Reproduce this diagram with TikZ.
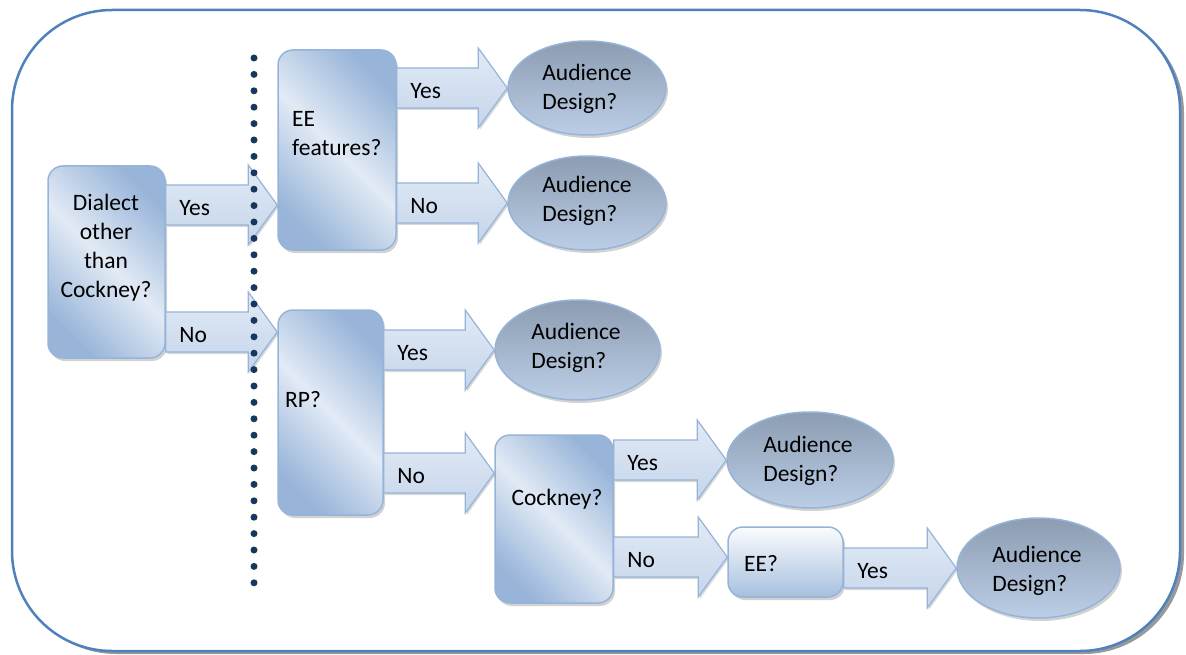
\documentclass[tikz,border=0pt]{standalone}
\usepackage{fontspec}
\setmainfont{Carlito}
\usetikzlibrary{shapes.geometric,shadows,calc}
\definecolor{frameblue}{RGB}{79,129,189}
\definecolor{boxdark}{RGB}{152,181,217}
\definecolor{boxlight}{RGB}{226,234,245}
\definecolor{boxline}{RGB}{150,180,216}
\definecolor{elltop}{RGB}{140,157,178}
\definecolor{ellbot}{RGB}{188,206,230}
\definecolor{arrtop}{RGB}{226,234,245}
\definecolor{arrbot}{RGB}{196,213,235}
\definecolor{dotblue}{RGB}{23,55,94}
\newcommand{\barrow}[3]{%
  \draw[blockarrow] let \p1=#1, \p2=#2 in
    (\x1,\y2+20pt) -- (\x2-29pt,\y2+20pt) -- (\x2-29pt,\y2+40pt) -- (\x2,\y2)
    -- (\x2-29pt,\y2-40pt) -- (\x2-29pt,\y2-20pt) -- (\x1,\y2-20pt) -- cycle;
  \path let \p1=#1, \p2=#2 in node[lbl, anchor=west] at (\x1+13.5pt,\y2-3.5pt) {#3};
}
\begin{document}
\begin{tikzpicture}[x=1pt,y=-1pt,
  lbl/.style={font=\fontsize{23.5}{29}\selectfont, inner sep=0pt, text=black},
  framebox/.style={draw=frameblue, line width=2.5pt, rounded corners=100pt, fill=white,
    drop shadow={shadow xshift=4pt,shadow yshift=-3pt,fill=gray,opacity=0.8}, inner sep=0pt},
  box/.style={draw=boxline, line width=1.5pt, rounded corners=15pt, inner sep=0pt,
    drop shadow={shadow xshift=2pt,shadow yshift=-3pt,opacity=0.35},
    left color=boxdark, right color=boxdark, middle color=boxlight, shading angle=-45},
  flatbox/.style={draw=boxline, line width=1.5pt, rounded corners=15pt, inner sep=0pt,
    drop shadow={shadow xshift=2pt,shadow yshift=-3pt,opacity=0.35},
    top color=white!85!boxlight, bottom color=boxdark!80!boxlight},
  ellnode/.style={ellipse, draw=boxline, line width=1.5pt, inner sep=0pt,
    drop shadow={shadow xshift=2pt,shadow yshift=-3pt,opacity=0.35},
    top color=elltop, bottom color=ellbot},
  blockarrow/.style={draw=boxline, line width=1.2pt, line join=miter,
    drop shadow={shadow xshift=1.5pt,shadow yshift=-2pt,opacity=0.3},
    top color=arrtop, bottom color=arrbot},
  dotline/.style={dotblue, line width=7pt, line cap=round, dash pattern=on 0pt off 16.4pt}
]
\useasboundingbox (0,0) rectangle (1186,655);
\node[framebox, minimum width=1168, minimum height=641] (frame) at (596,330.5) {};

% boxes
\node[box, minimum width=117, minimum height=192] (dial) at (106.5,262) {};
\node[box, minimum width=118, minimum height=200] (eef) at (337,150) {};
\node[box, minimum width=105, minimum height=205] (rp) at (330.5,412.5) {};
\node[box, minimum width=118, minimum height=168] (cock) at (554,519) {};
\node[flatbox, minimum width=115, minimum height=70] (ee) at (785.5,562) {};

% ellipses
\node[ellnode, minimum width=158, minimum height=94] (e1) at (587,88) {};
\node[ellnode, minimum width=158, minimum height=94] (e2) at (587,203) {};
\node[ellnode, minimum width=165, minimum height=100] (e3) at (577.5,350) {};
\node[ellnode, minimum width=166, minimum height=96] (e4) at (810,460) {};
\node[ellnode, minimum width=163, minimum height=100] (e5) at (1038.5,568) {};

% block arrows
\barrow{(dial.east |- 0,205)}{(eef.west |- 0,205)}{Yes}
\barrow{(dial.east |- 0,332)}{(rp.west |- 0,332)}{No}
\barrow{(eef.east |- e1.west)}{(e1.west)}{Yes}
\barrow{(eef.east |- e2.west)}{(e2.west)}{No}
\barrow{(rp.east |- e3.west)}{(e3.west)}{Yes}
\barrow{(rp.east |- 0,473)}{(cock.west |- 0,473)}{No}
\barrow{(cock.east |- e4.west)}{(e4.west)}{Yes}
\barrow{(cock.east |- 0,557)}{(ee.west |- 0,557)}{No}
\barrow{(ee.east |- e5.west)}{(e5.west)}{Yes}

% texts
\node[lbl, align=center] (tdial) at (106,248) {Dialect\\other\\than\\Cockney?};
\node[lbl, align=left, anchor=west] (teef) at (292,134) {EE\\features?};
\node[lbl, anchor=west] (trp) at (285,400) {RP?};
\node[lbl] (tcock) at (557,499) {Cockney?};
\node[lbl, anchor=west] (tee) at (744,564) {EE?};
\foreach \e/\p in {t1/{(587,88.5)},t2/{(587,200.5)},t3/{(576,347.5)},t4/{(808,460.5)},t5/{(1037,570.5)}}
  \node[lbl, align=left] (\e) at \p {Audience\\Design?};

% dotted separator
\coordinate (dtop) at (254,58);
\coordinate (dbot) at (254,583);
\draw[dotline] (dtop) -- (dbot);
\end{tikzpicture}
\end{document}
